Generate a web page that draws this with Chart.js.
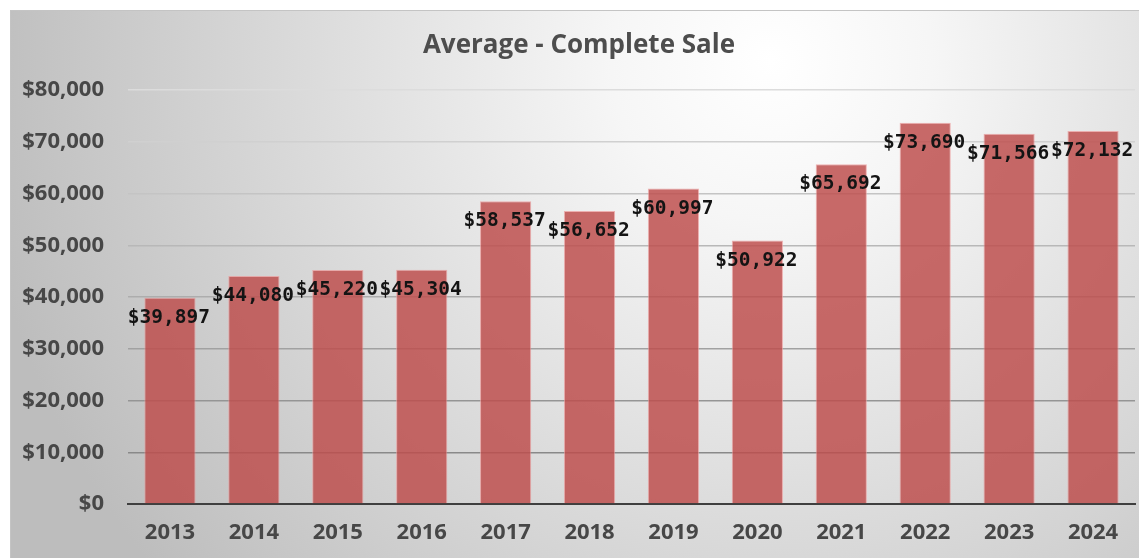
<!DOCTYPE html>
<html>
<head>
<meta charset="utf-8">
<script src="https://cdn.jsdelivr.net/npm/chart.js@4/dist/chart.umd.min.js"></script>
<style>
    html, body { margin: 0; padding: 0; background: #fff; }
    #wrap {
        position: absolute; left: 10px; top: 10px;
        width: 1129px; height: 548px;
        border-top: 1px solid #c4c4c4; border-left: 1px solid #c4c4c4;
        box-sizing: border-box;
    }
    canvas { display: block; }
</style>
</head>
<body>
<div id="wrap"><canvas id="ChartSale"></canvas></div>
<script>
// data
const years = ['2013', '2014', '2015', '2016', '2017', '2018', '2019', '2020', '2021', '2022', '2023', '2024'];
const avgSale = [39897, 44080, 45220, 45304, 58537, 56652, 60997, 50922, 65692, 73690, 71566, 72132];
const yMin = 0;
const yMax = 80000;
const yStep = 10000;
const chartTitle = 'Average - Complete Sale';

function money(v) {
    return '$' + v.toLocaleString('en-US');
}

// light spot near the top right, grey towards the edges
const bgPlugin = {
    id: 'bg',
    beforeDraw(chart) {
        const c = chart.ctx;
        const g = c.createRadialGradient(760, 50, 0, 760, 50, 800);
        g.addColorStop(0, '#ffffff');
        g.addColorStop(0.2, '#f6f6f6');
        g.addColorStop(1, '#bdbdbd');
        c.save();
        c.fillStyle = g;
        c.fillRect(0, 0, chart.width, chart.height);
        c.restore();
    }
};

// value labels, a bit under the top of each bar
const valueLabels = {
    id: 'valueLabels',
    afterDatasetsDraw(chart) {
        const c = chart.ctx;
        const meta = chart.getDatasetMeta(0);
        c.save();
        c.font = 'bold 19.5px "DejaVu Sans Mono"';
        c.fillStyle = '#141414';
        c.textAlign = 'center';
        c.textBaseline = 'middle';
        meta.data.forEach((bar, i) => {
            c.fillText(money(avgSale[i]), bar.x - 1, bar.y + 20);
        });
        c.restore();
    }
};

const ctx = document.getElementById('ChartSale').getContext('2d');
const chartSale = new Chart(ctx, {
    type: 'bar',
    data: {
        labels: years,
        datasets: [{
            label: 'Average',
            data: avgSale,
            backgroundColor: 'rgba(190, 78, 76, 0.84)',
            borderColor: 'rgba(235, 150, 150, 0.7)',
            borderWidth: 1,
            barPercentage: 0.61,
            categoryPercentage: 1.0
        }]
    },
    options: {
        responsive: true,
        maintainAspectRatio: false,
        animation: false,
        layout: { padding: { left: 12, right: 4, top: 0, bottom: 0 } },
        plugins: {
            title: {
                display: true,
                text: chartTitle,
                color: '#4d4d4d',
                font: { family: '"Open Sans"', size: 26, weight: 'bold' },
                padding: { top: 19, bottom: 29 }
            },
            legend: { display: false },
            tooltip: { enabled: false }
        },
        scales: {
            x: {
                afterFit: s => { s.height = 54; },
                grid: { display: false, drawTicks: false },
                border: { display: true, color: '#3f3f3f', width: 2 },
                ticks: {
                    color: '#474747',
                    padding: 16,
                    font: { family: '"Open Sans"', size: 22, weight: 'bold' }
                }
            },
            y: {
                min: yMin,
                max: yMax,
                afterFit: s => { s.width = 105; },
                border: { display: false },
                grid: {
                    drawTicks: false,
                    lineWidth: 1.5,
                    color: c => {
                        const f = (c.tick ? c.tick.value : 0) / yMax;
                        const v = Math.round(125 + f * 95);
                        return `rgb(${v}, ${v}, ${v})`;
                    }
                },
                ticks: {
                    stepSize: yStep,
                    color: '#474747',
                    padding: 24,
                    font: { family: '"Open Sans"', size: 22, weight: 'bold' },
                    callback: v => money(v)
                }
            }
        }
    },
    plugins: [bgPlugin, valueLabels]
});
</script>
</body>
</html>
